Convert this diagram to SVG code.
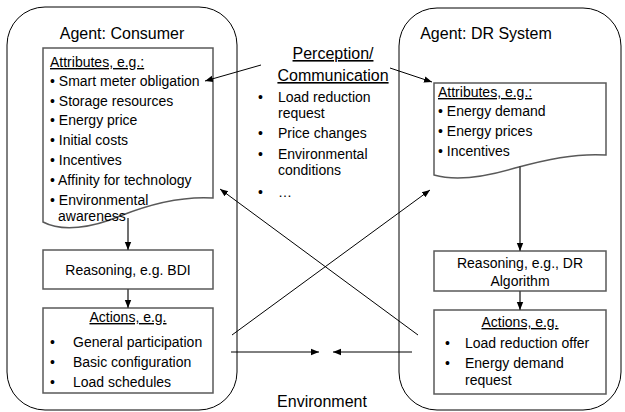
<svg xmlns="http://www.w3.org/2000/svg" width="625" height="412" viewBox="0 0 625 412">
  <style>
    text { font-family: "Liberation Sans", Arial, sans-serif; fill: #000; }
    .t16 { font-size: 16px; }
    .t14 { font-size: 14px; }
    .mid { text-anchor: middle; }
    .ul { text-decoration: underline; }
    .agent { fill: #fff; stroke: #000; stroke-width: 1; }
    .box { fill: #fff; stroke: #595959; stroke-width: 1.5; }
    .link { fill: none; stroke: #000; stroke-width: 1; }
    .flow { fill: none; stroke: #404040; stroke-width: 1.5; }
  </style>
  <defs>
    <marker id="arrow" viewBox="0 0 10 10" refX="10" refY="5" markerWidth="8" markerHeight="8" markerUnits="userSpaceOnUse" orient="auto">
      <path d="M0,1 L10,5 L0,9 Z" fill="#000"/>
    </marker>
  </defs>

  <rect width="625" height="412" fill="#fff"/>

  <!-- Consumer agent -->
  <g id="agent-consumer">
    <rect class="agent" x="7" y="7" width="230" height="403" rx="38" ry="38"/>
    <text class="t16 mid" x="122" y="39">Agent: Consumer</text>
  </g>

  <!-- DR system agent -->
  <g id="agent-dr">
    <rect class="agent" x="399" y="8" width="222" height="402" rx="38" ry="38"/>
    <text class="t16 mid" x="486" y="39">Agent: DR System</text>
  </g>

  <!-- Consumer attributes (document shape) -->
  <g id="consumer-attributes">
    <path class="box" d="M43,48 H213 V198 C180,196 150,204 120,216 C92,228 62,232 43,222 Z"/>
    <text class="t14 ul" x="50" y="67">Attributes, e.g.:</text>
    <text class="t14" x="50" y="86">• Smart meter obligation</text>
    <text class="t14" x="50" y="106">• Storage resources</text>
    <text class="t14" x="50" y="125">• Energy price</text>
    <text class="t14" x="50" y="145">• Initial costs</text>
    <text class="t14" x="50" y="165">• Incentives</text>
    <text class="t14" x="50" y="185">• Affinity for technology</text>
    <text class="t14" x="50" y="205">• Environmental</text>
    <text class="t14" x="58" y="221">awareness</text>
  </g>

  <g id="consumer-reasoning">
    <rect class="box" x="43" y="250" width="170" height="39"/>
    <text class="t14 mid" x="128" y="275">Reasoning, e.g. BDI</text>
  </g>

  <g id="consumer-actions">
    <rect class="box" x="43" y="308" width="170" height="85"/>
    <text class="t14 mid ul" x="128" y="322">Actions, e.g.</text>
    <text class="t14" x="50" y="347">•</text>
    <text class="t14" x="73" y="347">General participation</text>
    <text class="t14" x="50" y="367">•</text>
    <text class="t14" x="73" y="367">Basic configuration</text>
    <text class="t14" x="50" y="387">•</text>
    <text class="t14" x="73" y="387">Load schedules</text>
  </g>

  <!-- Perception / communication -->
  <g id="perception">
    <text class="t16 mid ul" x="333" y="59">Perception/</text>
    <text class="t16 mid ul" x="333" y="81">Communication</text>
    <text class="t14" x="258" y="102">•</text>
    <text class="t14" x="278" y="102">Load reduction</text>
    <text class="t14" x="278" y="118">request</text>
    <text class="t14" x="258" y="138">•</text>
    <text class="t14" x="278" y="138">Price changes</text>
    <text class="t14" x="258" y="159">•</text>
    <text class="t14" x="278" y="159">Environmental</text>
    <text class="t14" x="278" y="175">conditions</text>
    <text class="t14" x="258" y="197">•</text>
    <text class="t14" x="278" y="197">…</text>
  </g>

  <!-- DR system attributes (document shape) -->
  <g id="dr-attributes">
    <path class="box" d="M434,83 H606 V155 C575,153 545,160 515,168 C485,177 455,181 434,175 Z"/>
    <text class="t14 ul" x="438" y="97">Attributes, e.g.:</text>
    <text class="t14" x="438" y="116">• Energy demand</text>
    <text class="t14" x="438" y="136">• Energy prices</text>
    <text class="t14" x="438" y="156">• Incentives</text>
  </g>

  <g id="dr-reasoning">
    <rect class="box" x="434" y="251" width="172" height="40"/>
    <text class="t14 mid" x="520" y="268">Reasoning, e.g., DR</text>
    <text class="t14 mid" x="520" y="286">Algorithm</text>
  </g>

  <g id="dr-actions">
    <rect class="box" x="434" y="310" width="172" height="84"/>
    <text class="t14 mid ul" x="520" y="327">Actions, e.g.</text>
    <text class="t14" x="445" y="348">•</text>
    <text class="t14" x="465" y="348">Load reduction offer</text>
    <text class="t14" x="445" y="368">•</text>
    <text class="t14" x="465" y="368">Energy demand</text>
    <text class="t14" x="465" y="385">request</text>
  </g>

  <g id="environment">
    <text class="t16 mid" x="322" y="407">Environment</text>
  </g>

  <!-- Connectors -->
  <g id="connectors">
    <line class="flow" x1="128" y1="218" x2="128" y2="250" marker-end="url(#arrow)"/>
    <line class="flow" x1="128" y1="289" x2="128" y2="308" marker-end="url(#arrow)"/>
    <line class="flow" x1="520" y1="166" x2="520" y2="251" marker-end="url(#arrow)"/>
    <line class="flow" x1="520" y1="291" x2="520" y2="310" marker-end="url(#arrow)"/>
    <line class="link" x1="261" y1="65" x2="205" y2="81" marker-end="url(#arrow)"/>
    <line class="link" x1="390" y1="68" x2="432" y2="82" marker-end="url(#arrow)"/>
    <line class="link" x1="232" y1="335" x2="430" y2="190" marker-end="url(#arrow)"/>
    <line class="link" x1="418" y1="335" x2="220" y2="189" marker-end="url(#arrow)"/>
    <line class="link" x1="231" y1="352" x2="319" y2="352" marker-end="url(#arrow)"/>
    <line class="link" x1="412" y1="352" x2="333" y2="352" marker-end="url(#arrow)"/>
  </g>
</svg>
